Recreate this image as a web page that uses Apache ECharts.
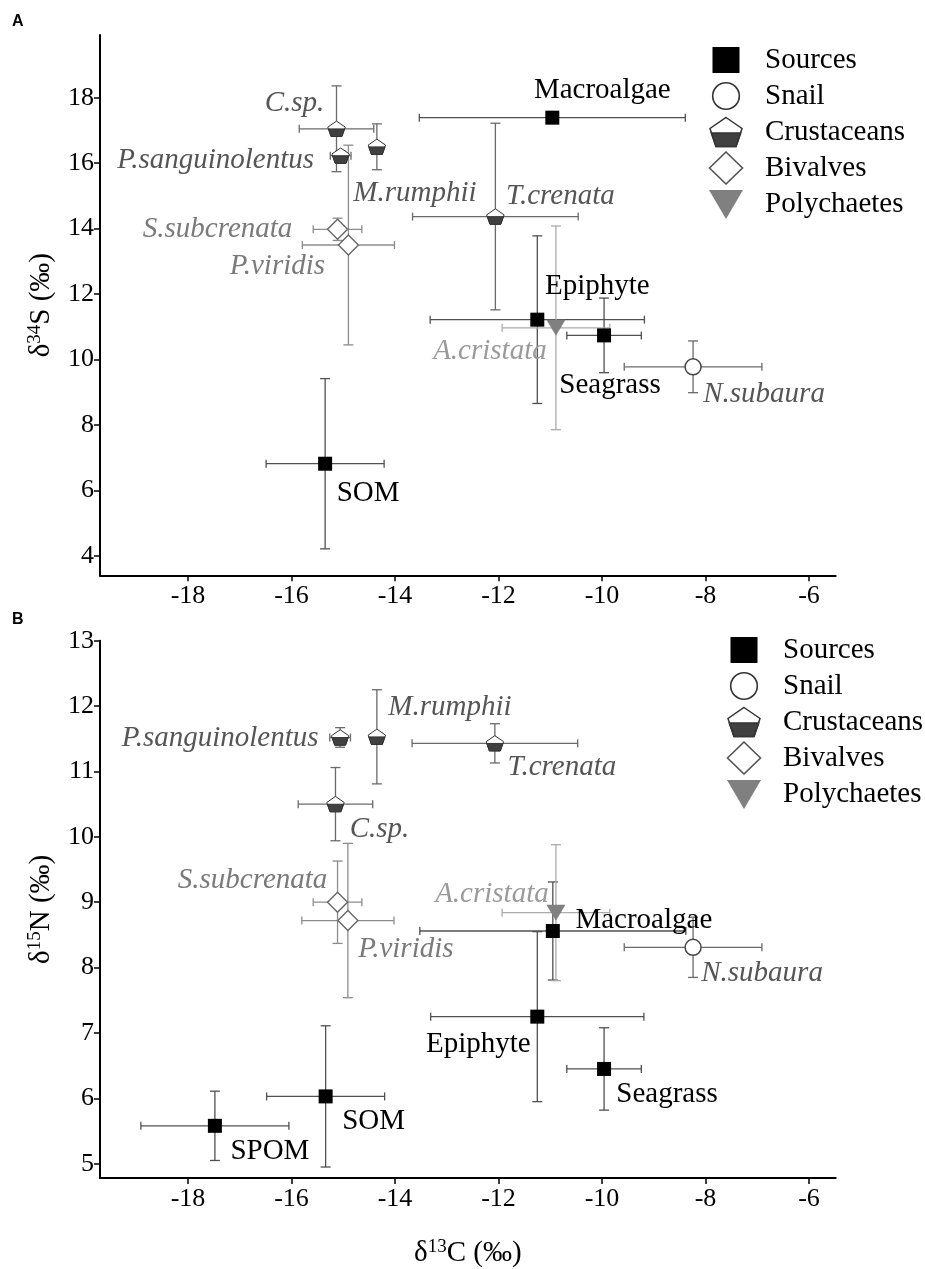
<!DOCTYPE html>
<html><head><meta charset="utf-8">
<script src="https://cdn.jsdelivr.net/npm/echarts@6/dist/echarts.min.js"></script>
<style>html,body{margin:0;padding:0;background:#fff}#c{width:925px;height:1269px}</style>
</head><body><div id="c"></div>
<script>
// ================= DATA =================
const groups = ['Sources', 'Snail', 'Crustaceans', 'Bivalves', 'Polychaetes'];
const xTicks = [-18, -16, -14, -12, -10, -8, -6];
const yTicksA = [4, 6, 8, 10, 12, 14, 16, 18];
const yTicksB = [5, 6, 7, 8, 9, 10, 11, 12, 13];

// ---- Panel A: δ13C vs δ34S (mean, sd) ----
const aSourceNames = ['Macroalgae', 'Epiphyte', 'Seagrass', 'SOM'];
const aSourceC     = [-10.96, -11.25, -9.96, -15.35];
const aSourceCsd   = [2.57, 2.07, 0.72, 1.14];
const aSourceS     = [17.39, 11.22, 10.74, 6.82];
const aSourceSsd   = [0, 2.56, 1.14, 2.60];

const aSnailNames = ['N.subaura'];
const aSnailC     = [-8.24];
const aSnailCsd   = [1.33];
const aSnailS     = [9.78];
const aSnailSsd   = [0.79];

const aCrustNames = ['C.sp.', 'P.sanguinolentus', 'M.rumphii', 'T.crenata'];
const aCrustC     = [-15.13, -15.05, -14.35, -12.06];
const aCrustCsd   = [0.72, 0.20, 0.10, 1.60];
const aCrustS     = [17.05, 16.23, 16.50, 14.37];
const aCrustSsd   = [1.31, 0.15, 0.70, 2.85];

const aBivNames = ['S.subcrenata', 'P.viridis'];
const aBivC     = [-15.11, -14.90];
const aBivCsd   = [0.47, 0.89];
const aBivS     = [13.98, 13.50];
const aBivSsd   = [0.34, 3.05];

const aPolyNames = ['A.cristata'];
const aPolyC     = [-10.89];
const aPolyCsd   = [1.04];
const aPolyS     = [10.97];
const aPolySsd   = [3.11];

// ---- Panel B: δ13C vs δ15N (mean, sd) ----
const bSourceNames = ['Macroalgae', 'Epiphyte', 'Seagrass', 'SOM', 'SPOM'];
const bSourceC     = [-10.95, -11.25, -9.96, -15.34, -17.48];
const bSourceCsd   = [2.57, 2.06, 0.72, 1.14, 1.43];
const bSourceN     = [8.56, 7.25, 6.45, 6.03, 5.58];
const bSourceNsd   = [0.75, 1.30, 0.63, 1.08, 0.53];

const bSnailNames = ['N.subaura'];
const bSnailC     = [-8.24];
const bSnailCsd   = [1.33];
const bSnailN     = [8.31];
const bSnailNsd   = [0.46];

const bCrustNames = ['P.sanguinolentus', 'M.rumphii', 'C.sp.', 'T.crenata'];
const bCrustC     = [-15.06, -14.35, -15.15, -12.07];
const bCrustCsd   = [0.20, 0.10, 0.72, 1.60];
const bCrustN     = [11.52, 11.53, 10.50, 11.43];
const bCrustNsd   = [0.15, 0.72, 0.56, 0.30];

const bBivNames = ['S.subcrenata', 'P.viridis'];
const bBivC     = [-15.11, -14.91];
const bBivCsd   = [0.47, 0.89];
const bBivN     = [9.00, 8.72];
const bBivNsd   = [0.63, 1.18];

const bPolyNames = ['A.cristata'];
const bPolyC     = [-10.89];
const bPolyCsd   = [1.04];
const bPolyN     = [8.84];
const bPolyNsd   = [1.04];

// ================= LAYOUT / STYLE =================
const SERIF = 'Liberation Serif';
const labelOffsets = {
  A: {
    'Macroalgae': [50, -27], 'Epiphyte': [60, -33], 'Seagrass': [6, 50], 'SOM': [43, 30],
    'N.subaura': [71, 28], 'C.sp.': [-42, -25], 'P.sanguinolentus': [-125, 5],
    'M.rumphii': [38, 47], 'T.crenata': [65, -20], 'S.subcrenata': [-120, 0],
    'P.viridis': [-71, 21], 'A.cristata': [-66, 24]
  },
  B: {
    'Macroalgae': [91, -11], 'Epiphyte': [-59, 28], 'Seagrass': [63, 25], 'SOM': [48, 25],
    'SPOM': [55, 26], 'N.subaura': [69, 26], 'P.sanguinolentus': [-120, 1],
    'M.rumphii': [73, -29], 'T.crenata': [67, 24], 'C.sp.': [44, 25],
    'S.subcrenata': [-85, -22], 'P.viridis': [58, 29], 'A.cristata': [-64, -18]
  }
};

function svgURI(w, h, body) {
  const svg = '<svg xmlns="http://www.w3.org/2000/svg" width="' + w + '" height="' + h +
    '" viewBox="0 0 ' + w + ' ' + h + '">' + body + '</svg>';
  return 'image://data:image/svg+xml;charset=utf-8,' + encodeURIComponent(svg);
}
const pentMarker = svgURI(19, 17,
  '<polygon points="9.5,0.8 18.2,6.8 14.9,16.2 4.1,16.2 0.8,6.8" fill="#fff" stroke="#333" stroke-width="1"/>' +
  '<polygon points="1.4,8.6 17.6,8.6 14.9,16.2 4.1,16.2" fill="#404040" stroke="#333" stroke-width="1"/>');

const legendIcons = {
  Sources: svgURI(68, 34, '<rect x="20.5" y="4" width="27" height="26" fill="#000"/>'),
  Snail: svgURI(68, 34, '<circle cx="34" cy="17" r="13.3" fill="#fff" stroke="#333" stroke-width="1.6"/>'),
  Crustaceans: svgURI(68, 34,
    '<polygon points="34,2.5 50,13.5 44,31.5 24,31.5 18,13.5" fill="#fff" stroke="#333" stroke-width="1.5"/>' +
    '<polygon points="19.3,18 48.7,18 44,31.5 24,31.5" fill="#404040" stroke="#333" stroke-width="1.5"/>'),
  Bivalves: svgURI(68, 34, '<polygon points="34,1 50.5,17 34,33 17.5,17" fill="#fff" stroke="#555" stroke-width="1.6"/>'),
  Polychaetes: svgURI(68, 34, '<polygon points="17,3 51,3 34,32" fill="#808080"/>')
};

const groupStyle = {
  Sources:     { symbol: 'rect', size: 14, item: { color: '#000' }, err: '#505050', lab: '#000', italic: false },
  Snail:       { symbol: 'circle', size: 16, item: { color: '#fff', borderColor: '#444', borderWidth: 1.5 }, err: '#6a6a6a', lab: '#555', italic: true },
  Crustaceans: { symbol: pentMarker, size: [19, 17], item: { color: '#404040' }, err: '#6a6a6a', lab: '#555', italic: true },
  Bivalves:    { symbol: 'diamond', size: 20, item: { color: '#fff', borderColor: '#666', borderWidth: 1.4 }, err: '#8c8c8c', lab: '#7a7a7a', italic: true },
  Polychaetes: { symbol: 'triangle', size: [19, 16], rotate: 180, item: { color: '#808080' }, err: '#ababab', lab: '#9a9a9a', italic: true }
};

// ================= BUILD =================
const panelA = {
  Sources: [aSourceNames, aSourceC, aSourceCsd, aSourceS, aSourceSsd],
  Snail: [aSnailNames, aSnailC, aSnailCsd, aSnailS, aSnailSsd],
  Crustaceans: [aCrustNames, aCrustC, aCrustCsd, aCrustS, aCrustSsd],
  Bivalves: [aBivNames, aBivC, aBivCsd, aBivS, aBivSsd],
  Polychaetes: [aPolyNames, aPolyC, aPolyCsd, aPolyS, aPolySsd]
};
const panelB = {
  Sources: [bSourceNames, bSourceC, bSourceCsd, bSourceN, bSourceNsd],
  Snail: [bSnailNames, bSnailC, bSnailCsd, bSnailN, bSnailNsd],
  Crustaceans: [bCrustNames, bCrustC, bCrustCsd, bCrustN, bCrustNsd],
  Bivalves: [bBivNames, bBivC, bBivCsd, bBivN, bBivNsd],
  Polychaetes: [bPolyNames, bPolyC, bPolyCsd, bPolyN, bPolyNsd]
};

function errRender(color) {
  return function (params, api) {
    const x = api.value(0), y = api.value(1), dx = api.value(2), dy = api.value(3);
    const st = { stroke: color, lineWidth: 1.3, fill: null };
    const kids = [];
    const ln = (x1, y1, x2, y2) => kids.push({ type: 'line', shape: { x1, y1, x2, y2 }, style: st });
    if (dx > 0) {
      const p1 = api.coord([x - dx, y]), p2 = api.coord([x + dx, y]);
      ln(p1[0], p1[1], p2[0], p2[1]);
      ln(p1[0], p1[1] - 4, p1[0], p1[1] + 4);
      ln(p2[0], p2[1] - 4, p2[0], p2[1] + 4);
    }
    if (dy > 0) {
      const p1 = api.coord([x, y - dy]), p2 = api.coord([x, y + dy]);
      ln(p1[0], p1[1], p2[0], p2[1]);
      ln(p1[0] - 5, p1[1], p1[0] + 5, p1[1]);
      ln(p2[0] - 5, p2[1], p2[0] + 5, p2[1]);
    }
    return { type: 'group', children: kids };
  };
}

const series = [];
function addPanel(panel, idx, key) {
  groups.forEach(g => {
    const [names, xs, xsd, ys, ysd] = panel[g];
    const gs = groupStyle[g];
    series.push({
      type: 'custom', name: g + ' err ' + key, xAxisIndex: idx, yAxisIndex: idx, z: 1, silent: true,
      renderItem: errRender(gs.err), encode: { x: 0, y: 1 },
      data: names.map((n, i) => [xs[i], ys[i], xsd[i], ysd[i]])
    });
  });
  groups.forEach(g => {
    const [names, xs, xsd, ys, ysd] = panel[g];
    const gs = groupStyle[g];
    series.push({
      type: 'scatter', name: g, xAxisIndex: idx, yAxisIndex: idx, z: 3, silent: true,
      symbol: gs.symbol, symbolSize: gs.size, symbolRotate: gs.rotate || 0,
      itemStyle: Object.assign({ opacity: 1 }, gs.item),
      label: {
        show: true, position: 'inside', align: 'center', verticalAlign: 'middle',
        fontFamily: SERIF, fontSize: 29, fontStyle: gs.italic ? 'italic' : 'normal', color: gs.lab,
        formatter: '{b}'
      },
      labelLayout: function (p) {
        const off = labelOffsets[key][names[p.dataIndex]] || [0, 0];
        return { dx: off[0], dy: off[1], hideOverlap: false };
      },
      data: names.map((n, i) => ({ name: n, value: [xs[i], ys[i]] }))
    });
  });
}
addPanel(panelA, 0, 'A');
addPanel(panelB, 1, 'B');

const axisCommon = {
  axisLine: { show: true, lineStyle: { color: '#000', width: 2 } },
  axisTick: { show: true, length: 6, lineStyle: { color: '#000', width: 1.5 } },
  splitLine: { show: false },
  axisLabel: { fontFamily: SERIF, fontSize: 26, color: '#000', margin: 8 }
};
function xAxis(idx, withName) {
  return Object.assign({}, axisCommon, {
    type: 'value', gridIndex: idx, min: -19.70, max: -5.484,
    axisTick: Object.assign({}, axisCommon.axisTick, { customValues: xTicks }),
    axisLabel: Object.assign({}, axisCommon.axisLabel, { customValues: xTicks }),
    name: withName ? '{n|δ}{s|13}{n|C (‰)}' : '', nameLocation: 'middle', nameGap: 60,
    nameTextStyle: {
      rich: {
        n: { fontFamily: SERIF, fontSize: 29, color: '#000', lineHeight: 31 },
        s: { fontFamily: SERIF, fontSize: 19, color: '#000', verticalAlign: 'top', lineHeight: 31 }
      }
    }
  });
}
function yAxis(idx, min, max, ticks, iso) {
  return Object.assign({}, axisCommon, {
    type: 'value', gridIndex: idx, min, max,
    axisTick: Object.assign({}, axisCommon.axisTick, { customValues: ticks }),
    axisLabel: Object.assign({}, axisCommon.axisLabel, { customValues: ticks, margin: 6 }),
    name: '{n|δ}{s|' + iso[0] + '}{n|' + iso[1] + ' (‰)}', nameLocation: 'middle', nameGap: 43,
    nameTextStyle: {
      rich: {
        n: { fontFamily: SERIF, fontSize: 29, color: '#000', lineHeight: 31 },
        s: { fontFamily: SERIF, fontSize: 19, color: '#000', verticalAlign: 'top', lineHeight: 31 }
      }
    }
  });
}

function legend(left, top) {
  return {
    orient: 'vertical', left, top, itemWidth: 68, itemHeight: 34, itemGap: 2, selectedMode: false,
    textStyle: { fontFamily: SERIF, fontSize: 29, color: '#000', padding: [0, 0, 0, 0] },
    data: groups.map(g => ({ name: g, icon: legendIcons[g] }))
  };
}

const option = {
  animation: false,
  backgroundColor: '#fff',
  title: [
    { text: 'A', left: 12, top: 14, padding: 0, textStyle: { fontFamily: 'Liberation Sans', fontWeight: 'bold', fontSize: 16, color: '#000' } },
    { text: 'B', left: 12, top: 612, padding: 0, textStyle: { fontFamily: 'Liberation Sans', fontWeight: 'bold', fontSize: 16, color: '#000' } }
  ],
  legend: [legend(687, 38), legend(705, 628)],
  grid: [
    { left: 100, width: 735.7, top: 35, height: 540.3 },
    { left: 100, width: 735.7, top: 640.7, height: 540.3 }
  ],
  xAxis: [xAxis(0, false), xAxis(1, true)],
  yAxis: [
    yAxis(0, 3.412, 19.915, yTicksA, ['34', 'S']),
    yAxis(1, 4.782, 13.0, yTicksB, ['15', 'N'])
  ],
  series
};

const chart = echarts.init(document.getElementById('c'), null, { renderer: 'canvas' });
chart.setOption(option);
</script>
</body></html>
